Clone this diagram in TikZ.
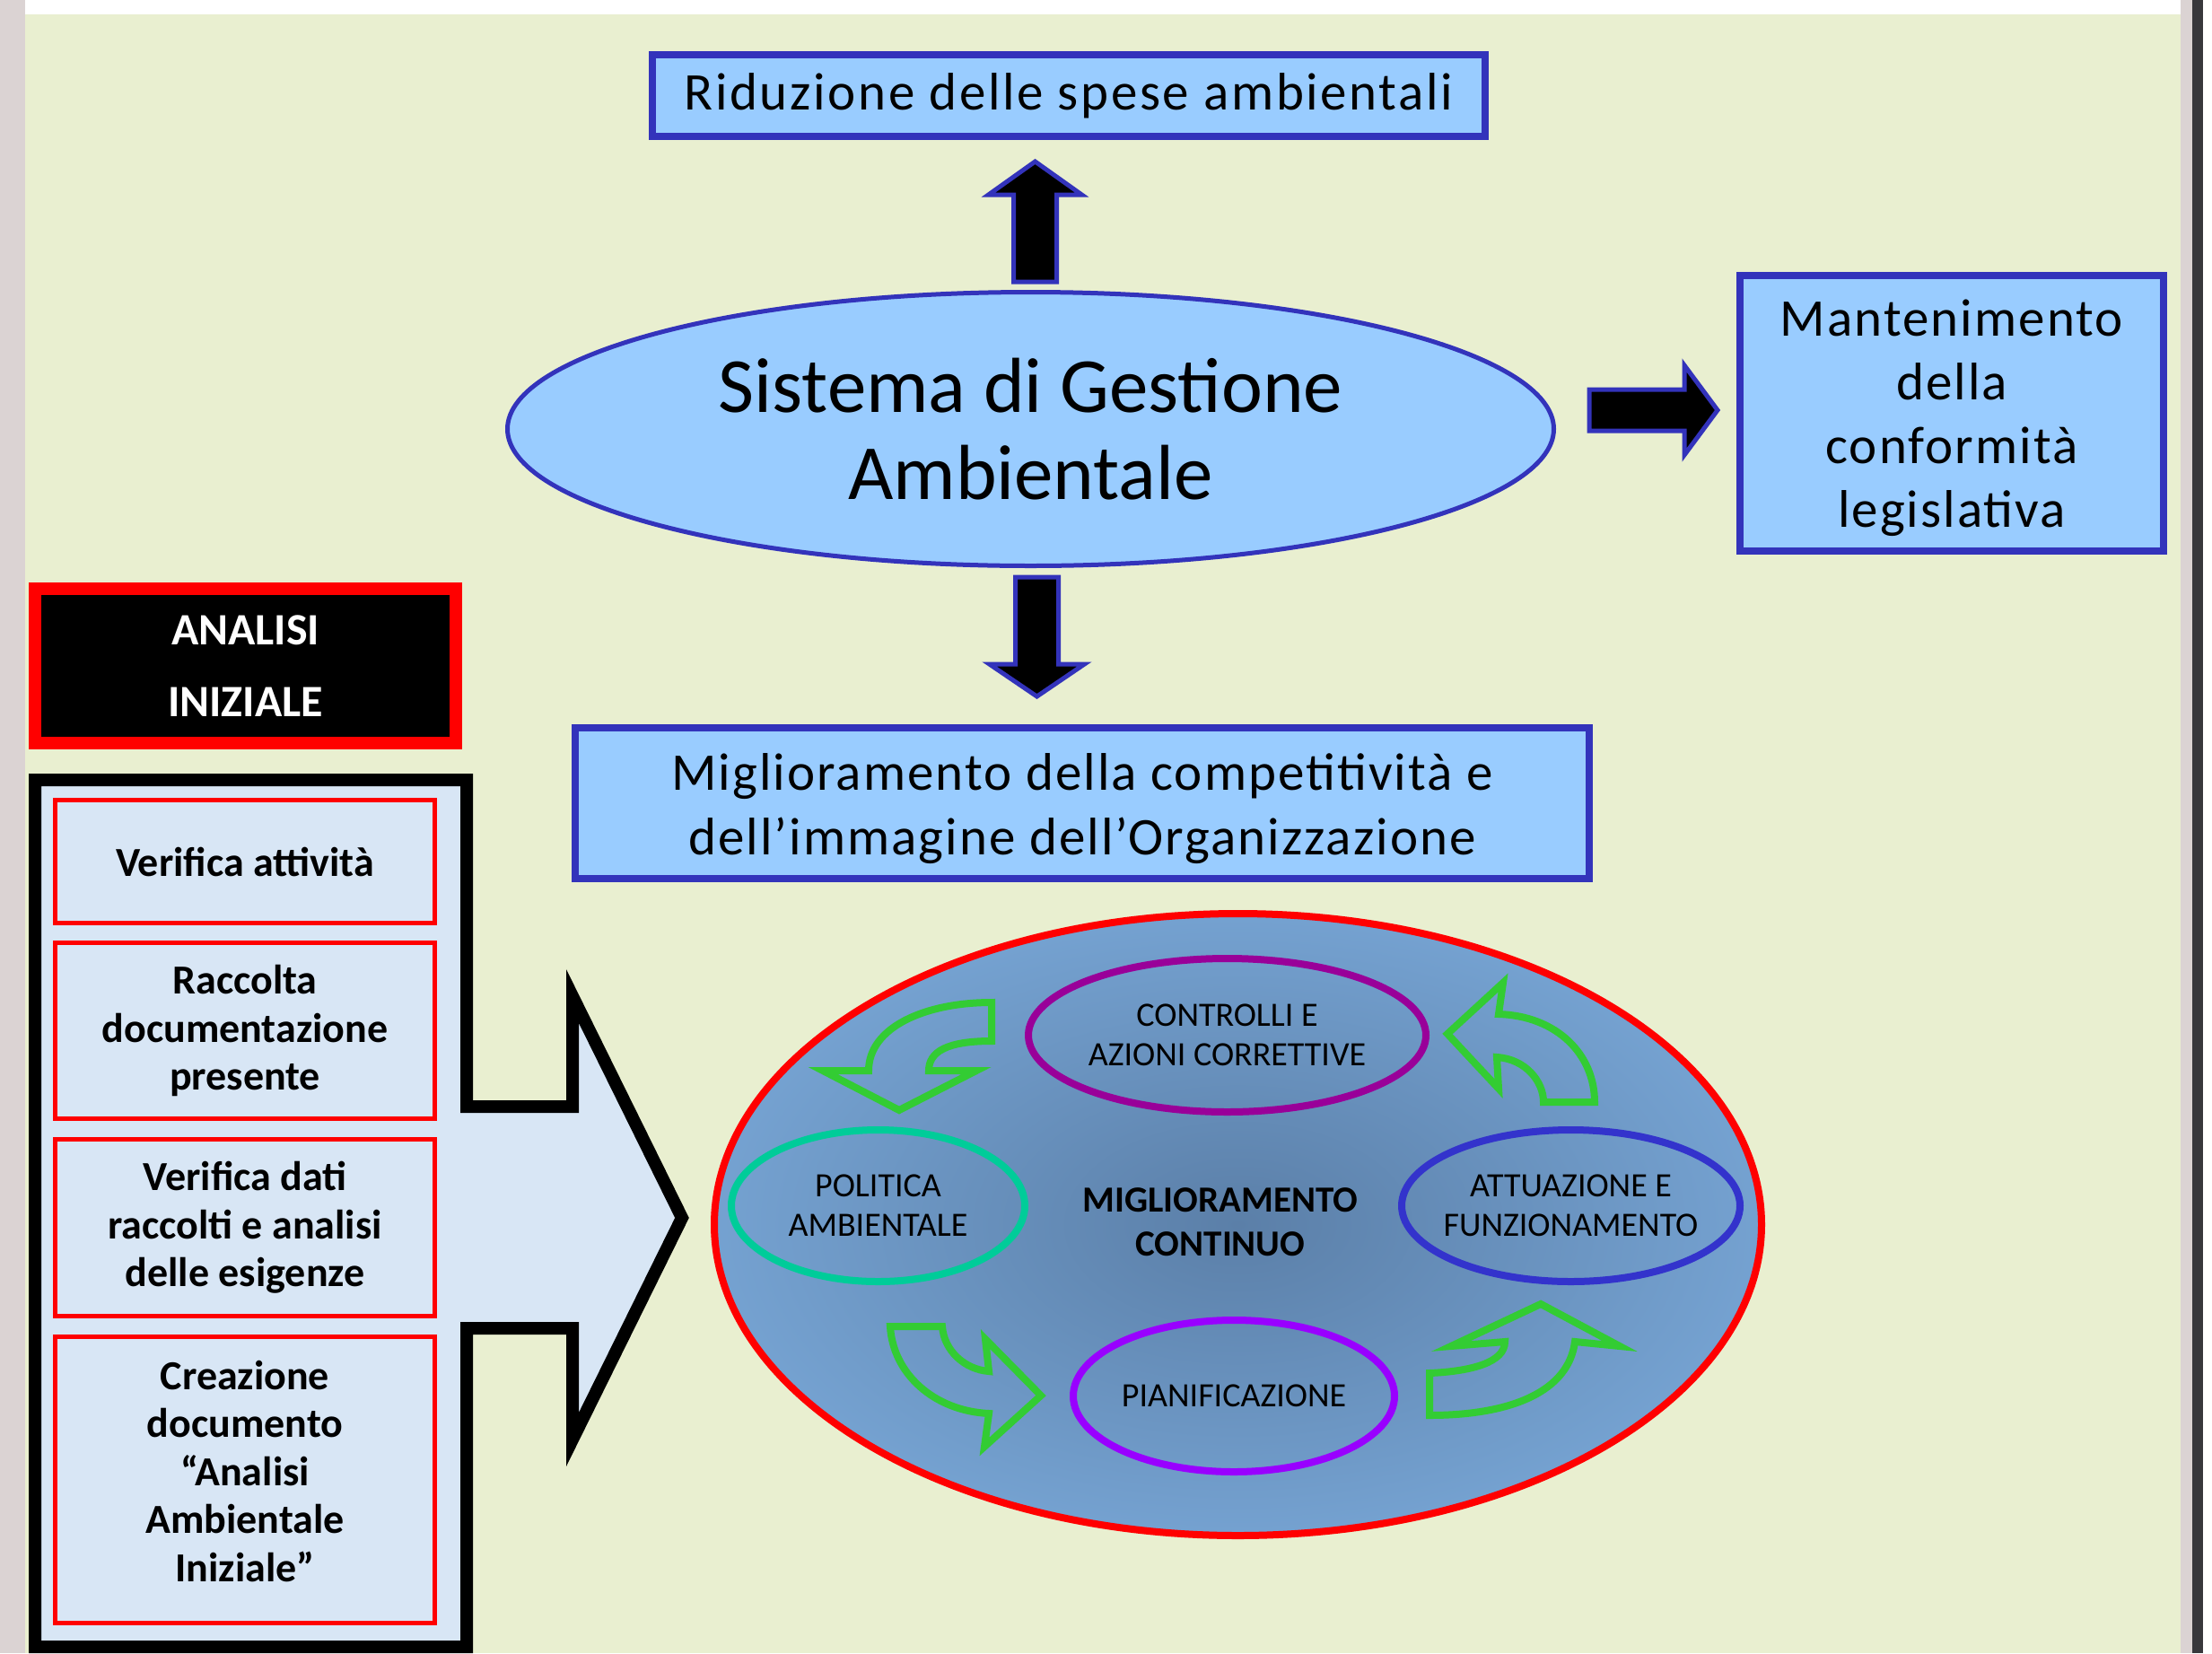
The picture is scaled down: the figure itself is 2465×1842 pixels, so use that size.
\documentclass[tikz,border=0pt]{standalone}
\usepackage{fontspec}
\setmainfont{Carlito}
\newfontfamily\widefont[LetterSpace=4.5]{Carlito}
\newfontfamily\midfont[LetterSpace=3.5]{Carlito}
\usetikzlibrary{shapes.geometric,calc}
\definecolor{bggreen}{RGB}{233,239,208}
\definecolor{leftgrey}{RGB}{219,211,211}
\definecolor{edgedark}{RGB}{56,56,60}
\definecolor{boxfill}{RGB}{153,204,255}
\definecolor{boxline}{RGB}{51,51,187}
\definecolor{paleblue}{RGB}{216,230,245}
\definecolor{cdark}{RGB}{91,127,168}
\definecolor{clight}{RGB}{134,185,236}
\definecolor{garr}{RGB}{51,204,51}
\definecolor{cpurple}{RGB}{153,0,153}
\definecolor{cteal}{RGB}{0,204,153}
\definecolor{cblue}{RGB}{51,51,204}
\definecolor{cviolet}{RGB}{153,0,255}
\pgfdeclareradialshading{pdcashade}{\pgfpoint{0bp}{0bp}}{color(0bp)=(cdark); color(42bp)=(clight); color(50bp)=(clight)}
\newcommand\myfs[2]{\fontsize{#1}{#2}\selectfont}
\begin{document}
\begin{tikzpicture}[x=1pt,y=-1pt,
  bluebox/.style={draw=boxline, fill=boxfill, line width=8pt, align=center, inner sep=0pt},
  boxtext/.style={align=center, inner sep=0pt},
  blockarr/.style={fill=black, draw=boxline, line width=5pt, line join=miter},
  redbox/.style={draw=red, fill=paleblue, line width=5pt, minimum width=423pt, inner sep=0pt, align=center, font=\bfseries\myfs{46}{53.5}},
  cyc/.style={ellipse, line width=8pt, inner sep=0pt},
  ctext/.style={align=center, font=\myfs{38}{44}, inner sep=0pt},
  garrow/.style={draw=garr, line width=8pt, line join=miter}]
\useasboundingbox (0,0) rectangle (2465,1842);
% background
\fill[leftgrey] (0,0) rectangle (28,1842);
\fill[white] (28,0) rectangle (2430,16);
\fill[bggreen] (28,16) rectangle (2430,1842);
\fill[leftgrey] (2430,0) rectangle (2443,1842);
\fill[edgedark] (2443,0) rectangle (2455,1842);
\fill[white] (2455,0) rectangle (2465,1842);

% top part
\node[bluebox, minimum width=928pt, minimum height=91pt, font=\widefont\myfs{59}{71}] (rid) at (1191,106.5) {Riduzione delle spese ambientali};
\node[ellipse, draw=boxline, fill=boxfill, line width=5pt, minimum width=1166pt, minimum height=305pt, inner sep=0pt, align=center, font=\myfs{87}{97}] (sga) at (1148.5,478) {Sistema di Gestione\\Ambientale};
\node[bluebox, minimum width=472pt, minimum height=307pt] (man) at (2175,460.5) {};
\node[boxtext, font=\midfont\myfs{59}{71}] at ($(man)+(0,5)$) {Mantenimento\\della\\conformità\\legislativa};
\node[bluebox, minimum width=1130pt, minimum height=168pt] (mig) at (1206,895) {};
\node[boxtext, font=\midfont\myfs{59}{72}] at ($(mig)+(0,6)$) {Miglioramento della competitività e\\dell’immagine dell’Organizzazione};

% block arrows
\coordinate (uaB) at ($(sga.north)+(5,-9)$);
\coordinate (uaT) at ($(uaB |- rid.south)+(0,24)$);
\draw[blockarr] ($(uaB)+(-24,0)$) -- ($(uaT)+(-24,37)$) -- ($(uaT)+(-52,37)$) -- (uaT) -- ($(uaT)+(52,37)$) -- ($(uaT)+(24,37)$) -- ($(uaB)+(24,0)$) -- cycle;
\coordinate (daB) at ($(sga.south)+(7,10)$);
\coordinate (daT) at ($(daB |- mig.north)+(0,-31)$);
\draw[blockarr] ($(daB)+(-24,0)$) -- ($(daT)+(-24,-36)$) -- ($(daT)+(-53,-36)$) -- (daT) -- ($(daT)+(53,-36)$) -- ($(daT)+(24,-36)$) -- ($(daB)+(24,0)$) -- cycle;
\coordinate (raB) at ($(sga.east)+(37,-21)$);
\coordinate (raT) at ($(raB -| man.west)+(-21,0)$);
\draw[blockarr] ($(raB)+(0,-23)$) -- ($(raT)+(-37,-23)$) -- ($(raT)+(-37,-50)$) -- (raT) -- ($(raT)+(-37,50)$) -- ($(raT)+(-37,23)$) -- ($(raB)+(0,23)$) -- cycle;

% left: analisi iniziale
\node[draw=red, fill=black, line width=14pt, minimum width=469pt, minimum height=172pt, inner sep=0pt, align=center, text=white, font=\bfseries\myfs{50}{80}] (ana) at (273.5,742) {ANALISI\\INIZIALE};
\draw[line width=14pt, fill=paleblue, line join=miter] (39,869) -- (520,869) -- (520,1233) -- (638,1233) -- (638,1110) -- (760,1357) -- (638,1604) -- (638,1480) -- (520,1480) -- (520,1835) -- (39,1835) -- cycle;
\node[redbox, minimum height=137pt] (b1) at (273,960) {Verifica attività};
\node[redbox, minimum height=196pt] (b2) at (273,1148.5) {Raccolta\\documentazione\\presente};
\node[redbox, minimum height=197pt] (b3) at (273,1368) {Verifica dati\\raccolti e analisi\\delle esigenze};
\node[redbox, minimum height=319pt] (b4) at (273,1648.5) {};
\node[boxtext, font=\bfseries\myfs{46}{53.5}] at ($(b4)+(0,-9)$) {Creazione\\documento\\“Analisi\\Ambientale\\Iniziale”};

% cycle
\node[ellipse, shading=pdcashade, draw=red, line width=8pt, minimum width=1167pt, minimum height=693pt, inner sep=0pt] (pdca) at (1379.5,1364.5) {};
\node[cyc, draw=cpurple, minimum width=443pt, minimum height=171pt] (ctrl) at (1367.5,1153.5) {};
\node[ctext] at (ctrl) {CONTROLLI E\\AZIONI CORRETTIVE};
\node[cyc, draw=cteal, minimum width=327pt, minimum height=169pt] (pol) at (978.5,1343.5) {};
\node[ctext] at (pol) {POLITICA\\AMBIENTALE};
\node[cyc, draw=cblue, minimum width=377pt, minimum height=169pt] (att) at (1750.5,1343.5) {};
\node[ctext] at (att) {ATTUAZIONE E\\FUNZIONAMENTO};
\node[cyc, draw=cviolet, minimum width=358pt, minimum height=169pt] (pia) at (1375,1555.5) {};
\node[ctext] at (pia) {PIANIFICAZIONE};
\node[align=center, font=\bfseries\myfs{41}{49}, inner sep=0pt] (mc) at (1360,1362) {MIGLIORAMENTO\\CONTINUO};

% green cycle arrows
\draw[garrow] (1035,1193) .. controls (1035,1172) and (1055,1160) .. (1105,1160) -- (1105,1117) .. controls (1030,1117) and (968,1145) .. (968,1193) -- (917,1193) -- (1002,1237) -- (1088,1193) -- cycle;
\draw[garrow] (1668,1178) .. controls (1700,1180) and (1720,1205) .. (1720,1228) -- (1777,1228) .. controls (1777,1175) and (1735,1132) .. (1670,1130) -- (1675,1095) -- (1613,1152) -- (1670,1213) -- cycle;
\draw[garrow] (1050,1478) .. controls (1052,1505) and (1075,1526) .. (1102,1528) -- (1098,1492) -- (1160,1555) -- (1097,1612) -- (1102,1575) .. controls (1040,1572) and (995,1530) .. (992,1478) -- cycle;
\draw[garrow] (1755,1495) .. controls (1748,1550) and (1685,1577) .. (1593,1577) -- (1593,1530) .. controls (1640,1528) and (1677,1518) .. (1677,1495) -- (1617,1500) -- (1717,1453) -- (1805,1500) -- cycle;
\end{tikzpicture}
\end{document}
